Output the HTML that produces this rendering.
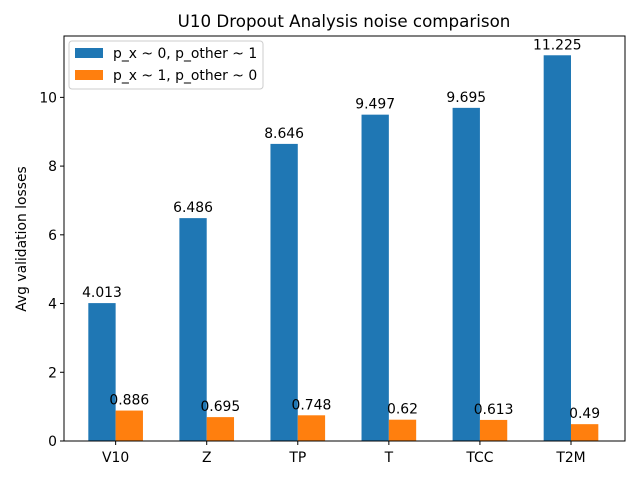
<!DOCTYPE html>
<html><head><meta charset="utf-8"><style>
body{margin:0;background:#fff;font-family:"DejaVu Sans","Liberation Sans",sans-serif;}
svg text{font-family:"DejaVu Sans","Liberation Sans",sans-serif;}
</style></head><body>
<svg id="chart" width="640" height="480" xmlns="http://www.w3.org/2000/svg">
<text x="344" y="27" font-size="16.7" text-anchor="middle">U10 Dropout Analysis noise comparison</text>
<text transform="translate(26,239) rotate(-90)" font-size="13.9" text-anchor="middle">Avg validation losses</text>
<g id="marks"></g>
<rect x="64" y="36" width="561" height="405" fill="none" stroke="#000" stroke-width="1"/>
<g>
<rect x="69" y="41" width="194" height="48" rx="3" fill="#fff" fill-opacity="0.8" stroke="#ccc"/>
<rect x="75" y="48" width="28" height="10" fill="#1f77b4"/>
<text x="113" y="58" font-size="13.9">p_x ~ 0, p_other ~ 1</text>
<rect x="75" y="70" width="28" height="10" fill="#ff7f0e"/>
<text x="113" y="80" font-size="13.9">p_x ~ 1, p_other ~ 0</text>
</g>
</svg>
<script>
const categories = ["V10","Z","TP","T","TCC","T2M"];
const seriesA = [4.013,6.486,8.646,9.497,9.695,11.225];
const seriesB = [0.886,0.695,0.748,0.62,0.613,0.49];
const yTicks = [0,2,4,6,8,10];
const xMin=-0.406, xMax=5.754, yMin=0, yMax=11.786;
const L=64,R=625,T=36,B=441;
const sx=v=>L+(v-xMin)/(xMax-xMin)*(R-L);
const sy=v=>B-(v-yMin)/(yMax-yMin)*(B-T);
const g=document.getElementById('marks');
const NS="http://www.w3.org/2000/svg";
function mk(tag,attrs){const e=document.createElementNS(NS,tag);for(const k in attrs)e.setAttribute(k,attrs[k]);g.appendChild(e);return e;}
const w=0.3;
categories.forEach((c,i)=>{
  const a=mk('rect',{x:sx(i-w/2)+1,y:sy(seriesA[i]),width:sx(w)-sx(0),height:sy(0)-sy(seriesA[i]),fill:'#1f77b4'});
  
  
  const b=mk('rect',{x:sx(i+w/2)+1,y:sy(seriesB[i]),width:sx(w)-sx(0),height:sy(0)-sy(seriesB[i]),fill:'#ff7f0e'});
  
  
  const ta=mk('text',{x:sx(i)+1,y:sy(seriesA[i])-6,'font-size':13.9,'text-anchor':'middle'});
  ta.textContent=String(seriesA[i]);
  
  
  const tb=mk('text',{x:sx(i+w)+1,y:sy(seriesB[i])-6,'font-size':13.9,'text-anchor':'middle'});
  tb.textContent=String(seriesB[i]);
  
  
  const tk=mk('line',{x1:sx(i+w/2)+1,x2:sx(i+w/2)+1,y1:B,y2:B+4,stroke:'#000'});
  
  
  const tl=mk('text',{x:sx(i+w/2)+1,y:B+21,'font-size':13.9,'text-anchor':'middle'});
  tl.textContent=c;
  
  
});
yTicks.forEach(v=>{
  const tk=mk('line',{x1:L-4,x2:L,y1:sy(v),y2:sy(v),stroke:'#000'});
  
  
  const tl=mk('text',{x:L-7,y:sy(v)+5,'font-size':13.9,'text-anchor':'end'});
  tl.textContent=String(v);
  
  
});
</script>
</body></html>
